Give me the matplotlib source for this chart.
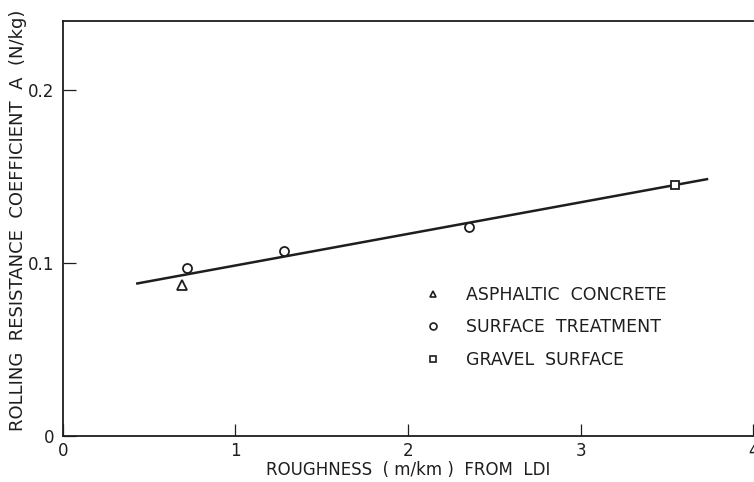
import matplotlib
matplotlib.use("Agg")
import matplotlib.pyplot as plt
from matplotlib.lines import Line2D

# Data
asph_x = [0.69]
asph_y = [0.087]
surf_x = [0.72, 1.28, 2.355]
surf_y = [0.097, 0.107, 0.121]
grav_x = [3.55]
grav_y = [0.145]
fit_x = [0.425, 3.74]
fit_y = [0.088, 0.1485]

xticks = [0, 1, 2, 3, 4]
xticklabels = ["0", "1", "2", "3", "4"]
yticks = [0, 0.1, 0.2]
yticklabels = ["0", "0.1", "0.2"]
legend_labels = ["ASPHALTIC  CONCRETE", "SURFACE  TREATMENT", "GRAVEL  SURFACE"]

ink = "#1e1e1e"
fs = 12

fig = plt.figure(figsize=(7.54, 4.82), dpi=100)
ax = fig.add_axes([0.0832, 0.0954, 0.9156, 0.862])

ax.plot(fit_x, fit_y, color=ink, lw=1.8, solid_capstyle="butt", zorder=2)
ms = 6.5
ax.plot(asph_x, asph_y, linestyle="none", marker="^", ms=ms, mfc="white", mec=ink, mew=1.3, zorder=3)
ax.plot(surf_x, surf_y, linestyle="none", marker="o", ms=ms, mfc="white", mec=ink, mew=1.3, zorder=3)
ax.plot(grav_x, grav_y, linestyle="none", marker="s", ms=ms - 0.5, mfc="white", mec=ink, mew=1.3, zorder=3)

ax.set_xlim(0, 4)
ax.set_ylim(0, 0.24)
ax.set_xticks(xticks)
ax.set_xticklabels(xticklabels)
ax.set_yticks(yticks)
ax.set_yticklabels(yticklabels)
ax.tick_params(direction="in", length=9, width=0.9, colors=ink, labelsize=fs, pad=4)
ax.tick_params(axis="y", pad=6)

for side in ["left", "bottom", "top"]:
    ax.spines[side].set_linewidth(1.3)
    ax.spines[side].set_color(ink)
ax.spines["right"].set_visible(False)

ax.set_xlabel("ROUGHNESS  ( m/km )  FROM  LDI", fontsize=fs, color=ink, labelpad=1)
ax.set_ylabel("ROLLING  RESISTANCE  COEFFICIENT  A  (N/kg)", fontsize=13, color=ink)
ax.yaxis.set_label_coords(-0.052, 0.52)

handles = [
    Line2D([], [], linestyle="none", marker="^", ms=5, mfc="white", mec=ink, mew=1.2),
    Line2D([], [], linestyle="none", marker="o", ms=5, mfc="white", mec=ink, mew=1.2),
    Line2D([], [], linestyle="none", marker="s", ms=4.5, mfc="white", mec=ink, mew=1.2),
]
leg = ax.legend(handles, legend_labels, loc="upper left", bbox_to_anchor=(0.524, 0.362),
                frameon=False, fontsize=12.5, handlelength=1.0, handletextpad=1.4,
                labelspacing=0.85, borderpad=0, borderaxespad=0)
for t in leg.get_texts():
    t.set_color(ink)

fig.savefig("out.png", dpi=100, facecolor="white")
